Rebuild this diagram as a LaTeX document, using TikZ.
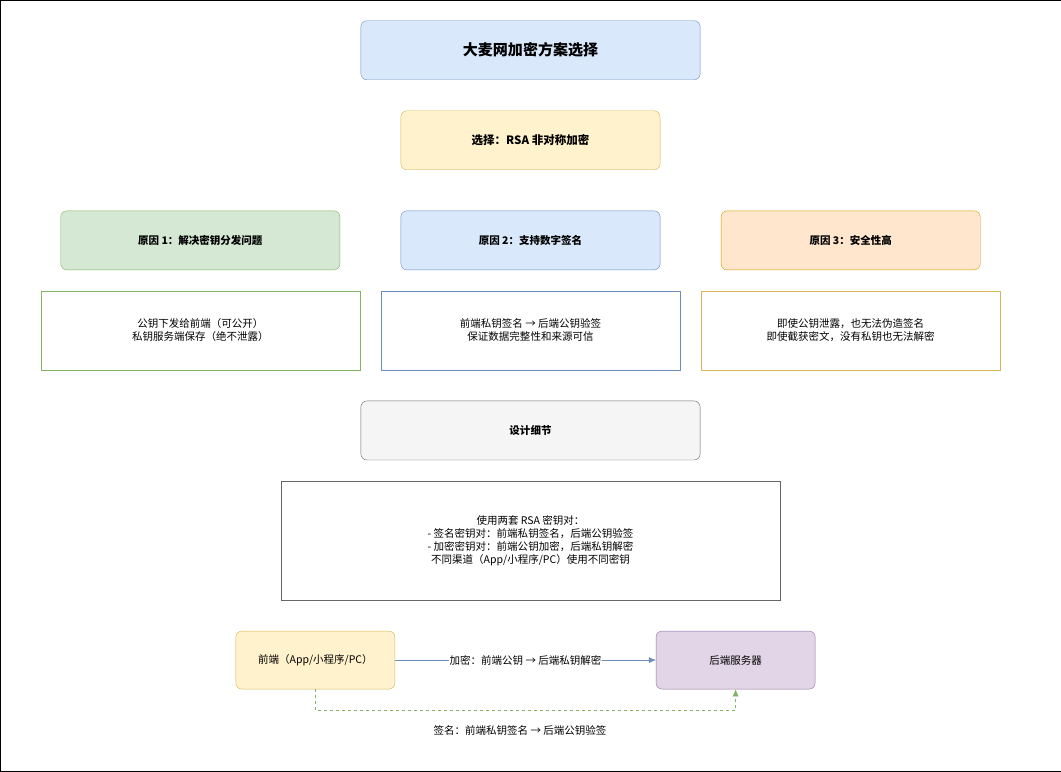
\documentclass[tikz,border=0pt]{standalone}
\usepackage{fontspec}
\setmainfont{Noto Sans CJK SC}
\usetikzlibrary{arrows.meta}
\definecolor{blueF}{HTML}{DAE8FC}\definecolor{blueD}{HTML}{6C8EBF}
\definecolor{yelF}{HTML}{FFF2CC}\definecolor{yelD}{HTML}{D6B656}
\definecolor{grnF}{HTML}{D5E8D4}\definecolor{grnD}{HTML}{82B366}
\definecolor{orgF}{HTML}{FFE6CC}\definecolor{orgD}{HTML}{D79B00}
\definecolor{gryF}{HTML}{F5F5F5}\definecolor{gryD}{HTML}{666666}
\definecolor{purF}{HTML}{E1D5E7}\definecolor{purD}{HTML}{9673A6}
\tikzset{
  box/.style={draw, rounded corners=6pt, align=center, inner sep=0pt, font=\fontsize{10.5}{13}\selectfont},
  plain/.style={draw, align=center, inner sep=0pt, font=\fontsize{10.5}{13}\selectfont}
}
\begin{document}
\begin{tikzpicture}[x=1pt,y=-1pt]
    \draw[black] (0.5,0.5) rectangle (1060.5,771.5);
    % head
    \node[box, fill=blueF, draw=blueD, minimum width=339pt, minimum height=59pt, font=\bfseries\fontsize{15}{18}\selectfont] (title) at (530.5,50.5) {大麦网加密方案选择};
    \node[box, fill=yelF, draw=yelD, minimum width=259pt, minimum height=59pt, font=\bfseries\fontsize{11.5}{14}\selectfont] (choice) at (530.5,140.5) {选择：RSA 非对称加密};
    % reasons
    \node[box, fill=grnF, draw=grnD, minimum width=279pt, minimum height=59pt, font=\bfseries\fontsize{10.5}{13}\selectfont] (r1) at (200.5,240.5) {原因 1：解决密钥分发问题};
    \node[box, fill=blueF, draw=blueD, minimum width=259pt, minimum height=59pt, font=\bfseries\fontsize{10.5}{13}\selectfont] (r2) at (530.5,240.5) {原因 2：支持数字签名};
    \node[box, fill=orgF, draw=orgD, minimum width=259pt, minimum height=59pt, font=\bfseries\fontsize{10.5}{13}\selectfont] (r3) at (850.5,240.5) {原因 3：安全性高};
    \node[plain, draw=grnD, minimum width=319pt, minimum height=79pt] (d1) at (200.5,330.5) {公钥下发给前端（可公开）\\私钥服务端保存（绝不泄露）};
    \node[plain, draw=blueD, minimum width=299pt, minimum height=79pt] (d2) at (530.5,330.5) {前端私钥签名 → 后端公钥验签\\保证数据完整性和来源可信};
    \node[plain, draw=yelD, minimum width=299pt, minimum height=79pt] (d3) at (850.5,330.5) {即使公钥泄露，也无法伪造签名\\即使截获密文，没有私钥也无法解密};
    % design
    \node[box, fill=gryF, draw=gryD, minimum width=339pt, minimum height=59pt, font=\bfseries\fontsize{10.5}{13}\selectfont] (design) at (530.5,430.5) {设计细节};
    \node[plain, draw=gryD, minimum width=499pt, minimum height=119pt] (pairs) at (530.5,540.5) {使用两套 RSA 密钥对：\\- 签名密钥对：前端私钥签名，后端公钥验签\\- 加密密钥对：前端公钥加密，后端私钥解密\\不同渠道（App/小程序/PC）使用不同密钥};
    % ends
    \node[box, fill=yelF, draw=yelD, minimum width=159pt, minimum height=58pt] (front) at (315.5,660) {前端（App/小程序/PC）};
    \node[box, fill=purF, draw=purD, minimum width=159pt, minimum height=58pt] (back) at (735.5,660) {后端服务器};
    \draw[blueD, -{Latex[length=7pt,width=6pt]}] (front) -- node[fill=white, inner sep=1pt, text=black, font=\fontsize{10.5}{13}\selectfont] {加密：前端公钥 → 后端私钥解密} (back);
    \coordinate (c1) at (315.5,710.5);
    \coordinate (c2) at (735.5,710.5);
    \draw[grnD, dashed, -{Latex[length=7pt,width=6pt]}] (front.south) -- (c1) -- (c2) -- (back.south);
    \node[font=\fontsize{10.5}{13}\selectfont] (siglbl) at (520,730) {签名：前端私钥签名 → 后端公钥验签};
\end{tikzpicture}
\end{document}
